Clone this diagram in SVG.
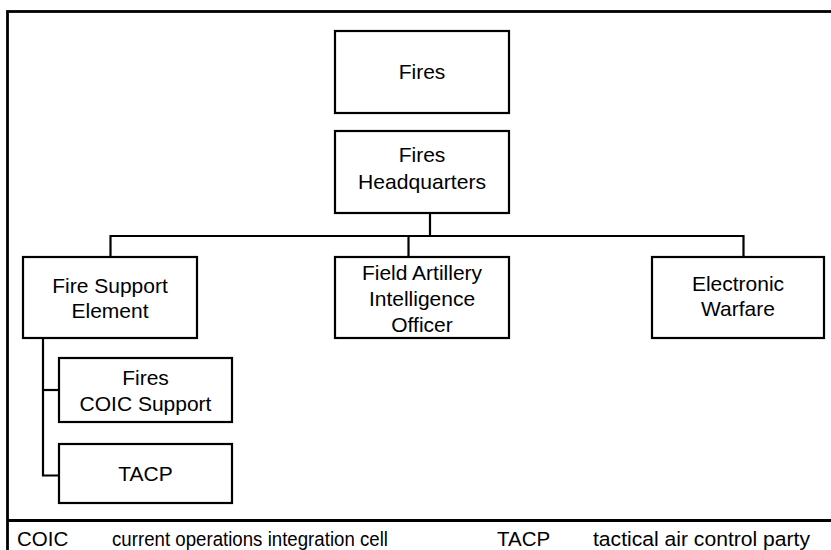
<svg xmlns="http://www.w3.org/2000/svg" width="831" height="550" viewBox="0 0 831 550">
<style>
.box{fill:#fff;stroke:#000;stroke-width:2.2}
.t{font-family:"Liberation Sans",Arial,sans-serif;font-size:21px;fill:#000;text-anchor:middle}
.lg{font-family:"Liberation Sans",Arial,sans-serif;font-size:20.5px;fill:#000}
.c{fill:none;stroke:#000;stroke-width:2.2}
.frame{fill:none;stroke:#000;stroke-width:2.8}
</style>
<rect width="831" height="550" fill="#fff"/>
<rect class="frame" x="7.5" y="11.5" width="830" height="545"/>
<line class="frame" x1="7" y1="520.5" x2="831" y2="520.5"/>
<g id="connectors">
<polyline class="c" points="430,213 430,236"/>
<polyline class="c" points="110.5,257 110.5,236 743.5,236 743.5,257"/>
<polyline class="c" points="408.5,236 408.5,257"/>
<polyline class="c" points="43,338 43,475.5 59,475.5"/>
<polyline class="c" points="43,390 59,390"/>
</g>
<g id="fires">
<rect class="box" x="335" y="31" width="174" height="82"/>
<text class="t" x="422" y="79">Fires</text>
</g>
<g id="fires-hq">
<rect class="box" x="335" y="131" width="174" height="82"/>
<text class="t" x="422" y="162">Fires</text>
<text class="t" x="422" y="188.5" textLength="128" lengthAdjust="spacingAndGlyphs">Headquarters</text>
</g>
<g id="fse">
<rect class="box" x="23" y="257" width="174" height="81"/>
<text class="t" x="110" y="292.5">Fire Support</text>
<text class="t" x="110" y="317.5">Element</text>
</g>
<g id="faio">
<rect class="box" x="335" y="257" width="174" height="81"/>
<text class="t" x="422" y="279.5">Field Artillery</text>
<text class="t" x="422" y="306">Intelligence</text>
<text class="t" x="422" y="332">Officer</text>
</g>
<g id="ew">
<rect class="box" x="652" y="257" width="172" height="81"/>
<text class="t" x="738" y="291">Electronic</text>
<text class="t" x="738" y="315.5">Warfare</text>
</g>
<g id="coic">
<rect class="box" x="59" y="358" width="173" height="64"/>
<text class="t" x="145.5" y="384.5">Fires</text>
<text class="t" x="145.5" y="410.5">COIC Support</text>
</g>
<g id="tacp">
<rect class="box" x="59" y="444" width="173" height="59"/>
<text class="t" x="145.5" y="480.5">TACP</text>
</g>
<g id="legend">
<text class="lg" x="17" y="545.5">COIC</text>
<text class="lg" x="112" y="545.5" textLength="276" lengthAdjust="spacingAndGlyphs">current operations integration cell</text>
<text class="lg" x="497" y="545.5">TACP</text>
<text class="lg" x="593" y="545.5" textLength="217" lengthAdjust="spacingAndGlyphs">tactical air control party</text>
</g>
</svg>
